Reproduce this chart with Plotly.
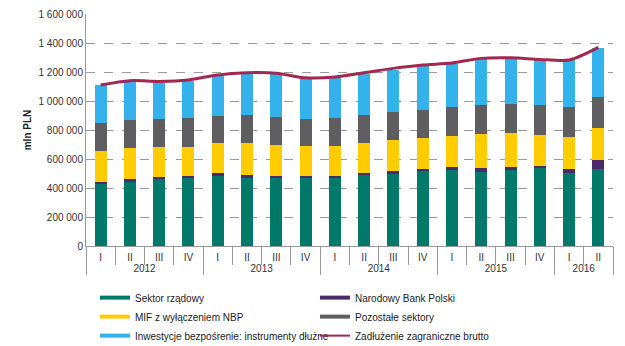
import plotly.graph_objects as go

years = ["2012"] * 4 + ["2013"] * 4 + ["2014"] * 4 + ["2015"] * 4 + ["2016"] * 2
quarters = ["I", "II", "III", "IV"] * 4 + ["I", "II"]

sektor_rzadowy = [425000, 440000, 459000, 472000, 486000, 472000, 468000, 466000, 473000,
                  490000, 500000, 514000, 525000, 508000, 521000, 536000, 502000, 532000]
nbp = [17000, 24000, 17000, 14000, 19000, 18000, 16000, 16000, 12000,
       16000, 19000, 14000, 17000, 28000, 27000, 16000, 32000, 64000]
mif = [210000, 209000, 204000, 198000, 202000, 217000, 214000, 205000, 205000,
       207000, 213000, 218000, 218000, 238000, 229000, 214000, 221000, 220000]
pozostale = [196000, 198000, 196000, 196000, 192000, 199000, 194000, 189000, 190000,
             193000, 195000, 194000, 197000, 201000, 203000, 205000, 204000, 210000]
inwestycje = [259000, 266000, 251000, 261000, 277000, 286000, 296000, 280000, 278000,
              282000, 289000, 300000, 301000, 316000, 316000, 311000, 321000, 342000]
zadluzenie = [1110000, 1140000, 1135000, 1145000, 1180000, 1195000, 1192000, 1160000, 1165000,
              1195000, 1225000, 1248000, 1262000, 1294000, 1298000, 1287000, 1283000, 1370000]

series = [
    ("Sektor rządowy", sektor_rzadowy, "#00796B"),
    ("Narodowy Bank Polski", nbp, "#4B2A6B"),
    ("MIF z wyłączeniem NBP", mif, "#FFCC00"),
    ("Pozostałe sektory", pozostale, "#5E5E60"),
    ("Inwestycje bezpośrenie: instrumenty dłużne", inwestycje, "#33B2EC"),
]
line_color = "#A3284F"

x = [years, quarters]
fig = go.Figure()
for name, vals, col in series:
    fig.add_trace(go.Bar(x=x, y=vals, name=name, marker=dict(color=col, line=dict(width=0)),
                         width=0.41, showlegend=False))
fig.add_trace(go.Scatter(x=x, y=zadluzenie, mode="lines", name="Zadłużenie zagraniczne brutto",
                         line=dict(color=line_color, width=3, shape="spline", smoothing=0.8),
                         showlegend=False))
# legend entries
for name, vals, col in series:
    fig.add_trace(go.Scatter(x=[None], y=[None], mode="lines", name=name,
                             line=dict(color=col, width=4)))
fig.add_trace(go.Scatter(x=[None], y=[None], mode="lines", name="Zadłużenie zagraniczne brutto",
                         line=dict(color=line_color, width=2)))

font = "Liberation Sans, Arial, sans-serif"
fig.update_layout(
    width=625, height=346,
    margin=dict(l=86, r=12, t=14, b=100, autoexpand=False),
    barmode="stack",
    plot_bgcolor="white", paper_bgcolor="white",
    separators=", ",
    font=dict(family=font, size=10, color="#333333"),
    legend=dict(orientation="h", x=0.017, xanchor="left", y=-0.16, yanchor="top",
                entrywidth=175, entrywidthmode="pixels", bgcolor="rgba(0,0,0,0)",
                font=dict(size=10, color="#222222"), traceorder="normal"),
)
fig.update_yaxes(range=[0, 1600000], dtick=200000, tickformat=",d",
                 showgrid=True, gridcolor="#9A9A9A", griddash="dash", gridwidth=1,
                 showline=True, linecolor="#9A9A9A", linewidth=1, zeroline=False,
                 ticks="", tickfont=dict(size=10, color="#333333"),
                 title=dict(text="<b>mln PLN</b>", font=dict(size=10, color="#222222"), standoff=5))
fig.update_xaxes(type="multicategory", showline=True, linecolor="#9A9A9A", linewidth=1,
                 ticks="outside", ticklen=18, tickcolor="#9A9A9A", tickson="boundaries",
                 ticklabelstandoff=2,
                 showdividers=True, dividercolor="#9A9A9A", dividerwidth=1,
                 tickfont=dict(size=10, color="#333333"), showgrid=False)

fig.write_html("out.html")
